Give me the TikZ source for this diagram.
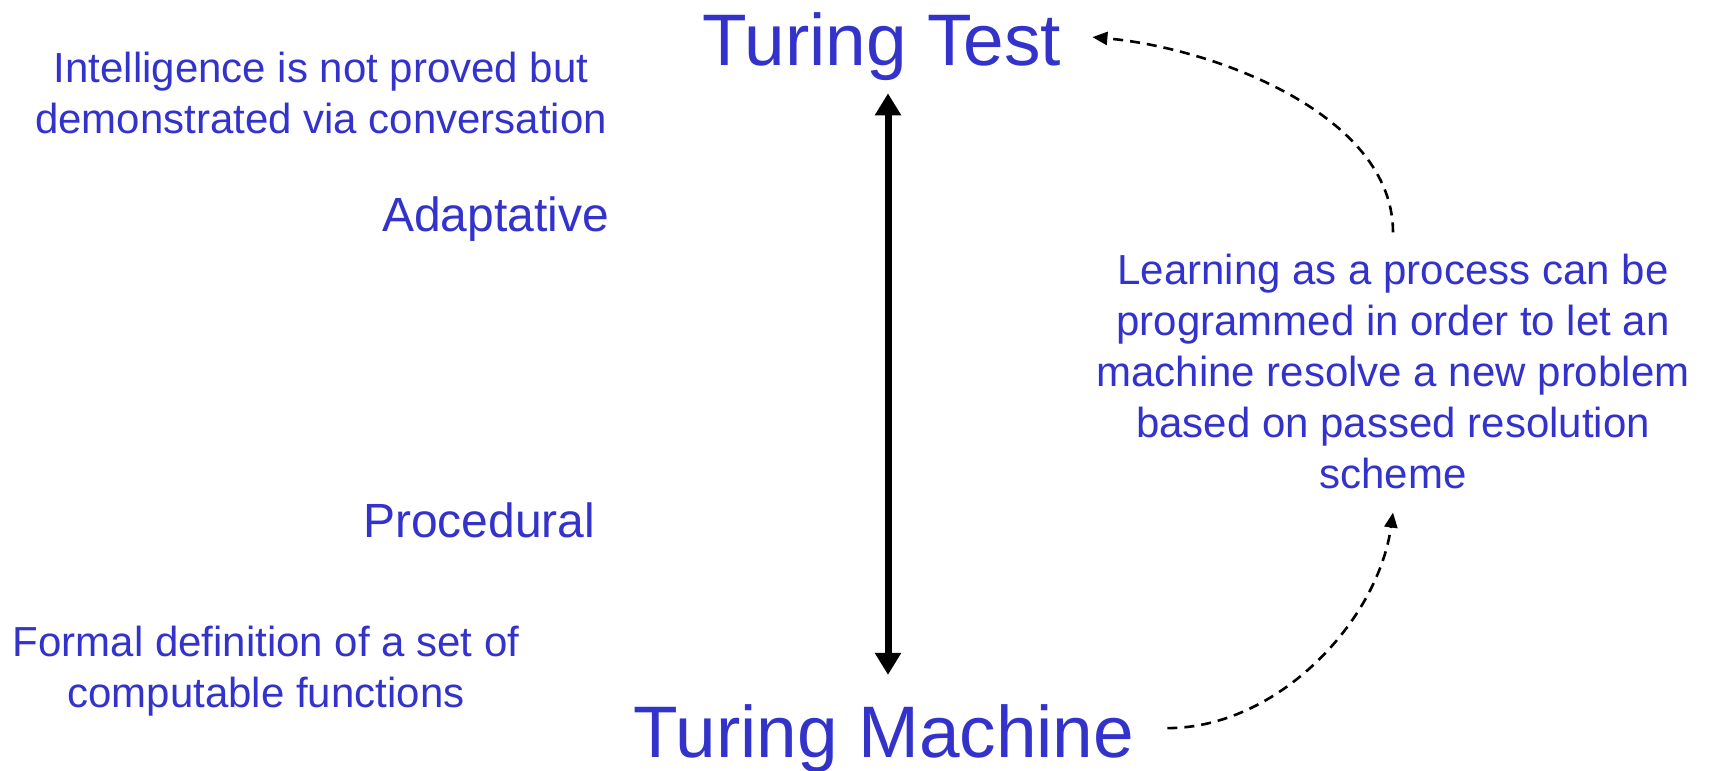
\documentclass[tikz,border=0pt]{standalone}
\usepackage{fontspec}
\setmainfont{Liberation Sans}
\usepackage{xcolor}
\usepackage{tikz}
\usetikzlibrary{arrows.meta}
\definecolor{TuringBlue}{HTML}{3333CC}

\begin{document}
\begin{tikzpicture}[x=1pt,y=1pt,
  note/.style={text=TuringBlue,inner sep=0pt,align=center,font=\fontsize{42}{51}\selectfont},
  level/.style={text=TuringBlue,inner sep=0pt,font=\fontsize{48}{58}\selectfont},
  title/.style={text=TuringBlue,inner sep=0pt,font=\fontsize{73}{88}\selectfont},
  bothway/.style={line width=7pt,{Triangle[length=22pt,width=25pt]}-{Triangle[length=22pt,width=25pt]}},
  hop/.style={line width=2.6pt,dash pattern=on 10pt off 7pt,-{Triangle[length=15pt,width=13pt]}}]
  \useasboundingbox (0,0) rectangle (1711,771);

  % Titles
  \node[title,anchor=base] (test) at (882,705) {Turing Test};
  \node[title,anchor=base] (machine) at (884,13) {Turing Machine};

  % Left notes
  \node[note,anchor=base] (proved) at (321,637) {Intelligence is not proved but\\demonstrated via conversation};
  \node[level,anchor=base west] (adapt) at (382,539) {Adaptative};
  \node[level,anchor=base west] (proc) at (363,233) {Procedural};
  \node[note,anchor=base] (formal) at (266,63) {Formal definition of a set of\\computable functions};

  % Right note
  \node[note,anchor=base] (learn) at (1393,282) {Learning as a process can be\\programmed in order to let an\\machine resolve a new problem\\based on passed resolution\\scheme};

  % Axis between the two
  \draw[bothway] ([xshift=4pt,yshift=30pt]machine.north) -- ([xshift=4pt,yshift=-12pt]machine.north |- test.south);

  % Dashed links
  \draw[hop] ([yshift=22pt]learn.north) to[out=90,in=-5,looseness=0.85] ([xshift=31pt,yshift=10pt]test.east);
  \draw[hop] ([xshift=33pt,yshift=11pt]machine.east) to[out=0,in=-98,looseness=0.9] ([yshift=-23pt]learn.south);
\end{tikzpicture}
\end{document}
